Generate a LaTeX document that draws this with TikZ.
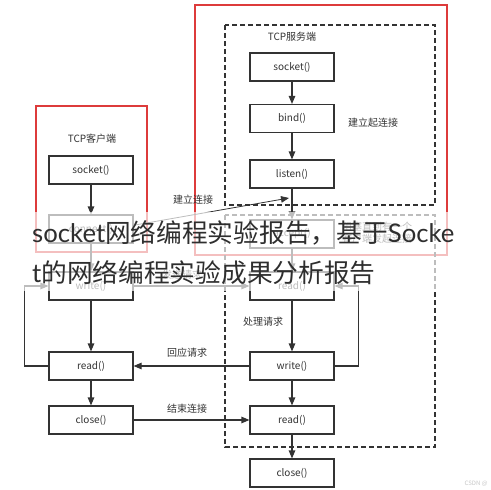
\documentclass[tikz,border=0pt]{standalone}
\usepackage{fontspec}
\setmainfont{Noto Sans CJK SC}
\newfontfamily\marklatin{Lato}
\usetikzlibrary{arrows.meta,calc}
\definecolor{boxline}{HTML}{333333}
\definecolor{redline}{HTML}{DD3B3B}

\begin{document}
\begin{tikzpicture}[x=1pt,y=-1pt,>={Triangle[length=8pt,width=6.5pt]},
  every node/.style={font=\fontsize{10}{12}\selectfont,text=boxline}]
		\tikzstyle{fbox}=[rectangle,draw=boxline,line width=1.1pt,
                  minimum width=84pt, minimum height=28pt, inner sep=1pt]
		\tikzstyle{link}=[draw=boxline,line width=1.1pt,->]
		\tikzstyle{frame}=[draw=redline,line width=2.3pt]
		\tikzstyle{zone}=[draw=boxline,line width=1.1pt,dash pattern=on 5pt off 3pt]
		\tikzstyle{overtext}=[anchor=west,inner sep=0,font=\fontsize{25.7}{30}\selectfont,
                  text=black!82]

    \useasboundingbox (0,0) rectangle (491,490);

        % frames
    \draw[frame] (36,106) rectangle (147,252);
    \draw[frame] (195,5) rectangle (447,255);
    \draw[zone] (225,25) rectangle (435,205);
    \draw[zone] (225,215) rectangle (435,447);

        % client side
     	\foreach \name/\txt/\y in {csocket/socket()/170, connect/connect()/229,
     	  cwrite/write()/286, cread/read()/366, cclose/close()/420}
       		\node[fbox] (\name) at (91,\y) {\txt};

        % server side
     	\foreach \name/\txt/\y in {ssocket/socket()/67, bind/bind()/118.5,
     	  listen/listen()/174, accept/accept()/234, sread/read()/286,
     	  swrite/write()/366, sreadb/read()/420, sclose/close()/473}
       		\node[fbox] (\name) at (292,\y) {\txt};

    \node (client) at (92,139) {TCP客户端};
    \node (server) at (292,37) {TCP服务端};
    \node (bindnote) at (373,123) {建立起连接};
    \node (connnote) at (193,200) {建立连接};
    \node (acceptnote) at (377,233) [align=center] {阻塞直到有一个\\客户端发起连接};
    \node (sendnote) at (182,275) {发送请求};
    \node (handle) at (263,322) {处理请求};
    \node (reply) at (187,353) {回应请求};
    \node (finish) at (187,409) {结束连接};

        % edges
        \foreach \a/\b in {csocket/connect, connect/cwrite, cwrite/cread, cread/cclose}
            \draw[link] (\a) -- (\b);

        \foreach \a/\b in {ssocket/bind, bind/listen, listen/accept, accept/sread,
          sread/swrite, swrite/sreadb, sreadb/sclose}
            \draw[link] (\a) -- (\b);

        \foreach \a/\b in {cwrite/sread, swrite/cread, cclose/sreadb}
            \draw[link] (\a) -- (\b);

    \coordinate (meet) at (289,198);
    \draw[link,line width=0.8pt] (connect.5) -- (meet);

        % loops
    \draw[link] (cread.west) -- ++(-24,0) |- (cwrite.west);
    \draw[link] (swrite.east) -- ++(24,0) |- (sread.east);

        % watermark
    \fill[white,opacity=0.68] (0,212) rectangle (491,291);
    \node[overtext] (markone) at (32,233) {{\marklatin socket}网络编程实验报告，基于{\marklatin Socke}};
    \node[overtext] (marktwo) at (32,273) {{\marklatin t}的网络编程实验成果分析报告};
    \node[anchor=east,font=\fontsize{6}{7}\selectfont,text=black!22]
      (csdn) at (491,484) {CSDN @};

	\end{tikzpicture}
\end{document}
